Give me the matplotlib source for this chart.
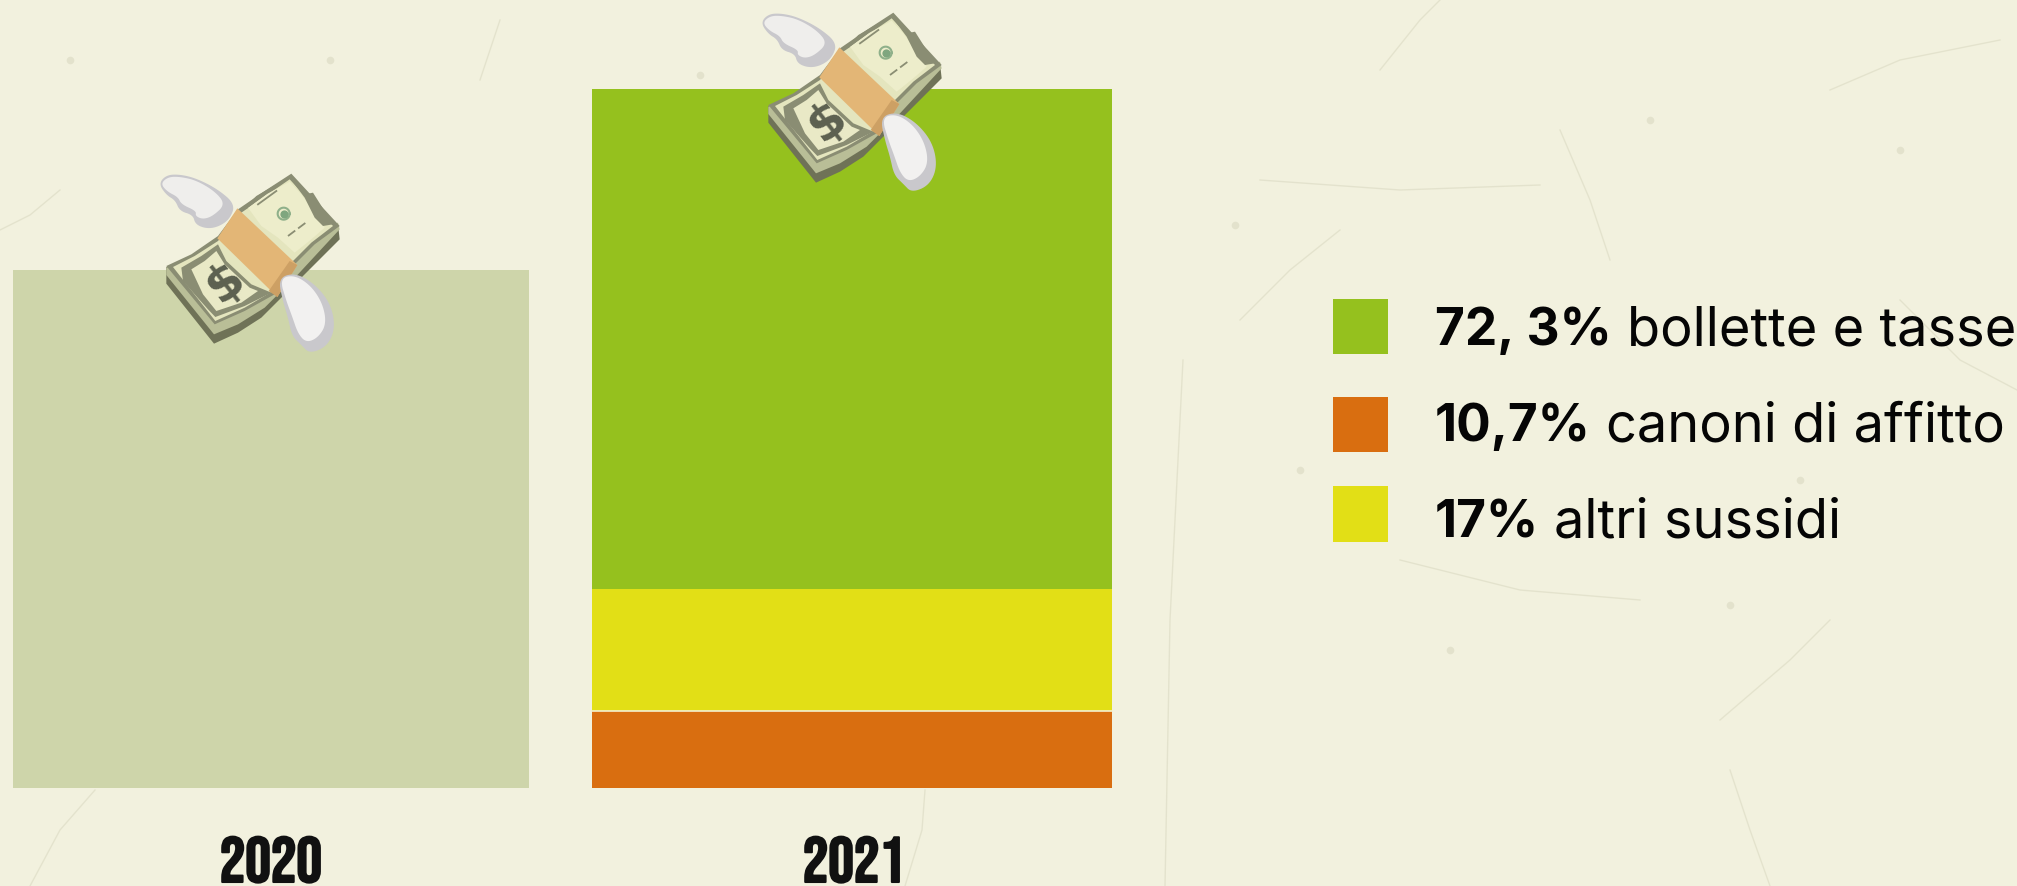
#Bonus 2020 vs 2021: barra piena e barra divisa in tre voci
import matplotlib
matplotlib.use('Agg')
import matplotlib.pyplot as plt
from matplotlib.patches import Polygon, Rectangle
import matplotlib.patheffects as pe
import numpy as np

plt.rcParams['font.family'] = ['Inter', 'DejaVu Sans']

anni = ['2020', '2021']
totale_2020 = 74.1
#altezze, dal basso verso l'alto
voci_2021 = ['canoni', 'sussidi', 'bollette']
valori_2021 = [11.0, 17.4, 71.6]
colori_2021 = ['#D96E10', '#E2DF16', '#95C11E']
colore_2020 = '#CED5AA'

legenda_num = ['72, 3%', '10,7%', '17%']
legenda_txt = ['bollette e tasse', 'canoni di affitto', 'altri sussidi']
legenda_col = ['#95C11E', '#D96E10', '#E2DF16']

sfondo = '#F2F1DE'

W, H = 2017, 886
fig = plt.figure(figsize=(W/100, H/100), dpi=100, facecolor=sfondo)

#assi delle barre: x=0 a 271 px, x=1 a 852 px; y=0 a 787.5 px, y=100 a 89 px
ax = fig.add_axes([0, 0, 1, 1])
ax.set_xlim(-271/581, (W-271)/581)
y_px = 699/100
ax.set_ylim(-(H-787.5)/y_px, 787.5/y_px)
ax.patch.set_alpha(0)
ax.axis('off')

ax.bar(0, totale_2020, width=516/581, color=colore_2020, zorder=2)
base = 0
for i in range(3):
    ax.bar(1, valori_2021[i], bottom=base, width=520/581, color=colori_2021[i], zorder=2)
    base += valori_2021[i]

#filo chiaro tra arancione e giallo
ax.plot([0.552, 1.448], [11.0, 11.0], color='#F4F0D0', lw=1.2, zorder=3)

#sovrapposizione in pixel per legenda, graffi ed emoji
px = fig.add_axes([0, 0, 1, 1])
px.set_xlim(0, W)
px.set_ylim(H, 0)
px.patch.set_alpha(0)
px.axis('off')

#graffi dello sfondo
graffi = [
    [(1183, 360), (1170, 620), (1165, 886)],
    [(1380, 70), (1420, 20), (1440, 0)],
    [(1240, 320), (1290, 270), (1340, 230)],
    [(1610, 260), (1590, 200), (1560, 130)],
    [(1260, 180), (1400, 190), (1540, 185)],
    [(1400, 560), (1520, 590), (1640, 600)],
    [(1720, 720), (1790, 660), (1830, 620)],
    [(1730, 770), (1750, 830), (1770, 886)],
    [(95, 790), (60, 830), (30, 886)],
    [(925, 790), (922, 830), (905, 886)],
    [(500, 20), (490, 50), (480, 80)],
    [(0, 230), (30, 215), (60, 190)],
    [(1830, 90), (1900, 60), (2000, 40)],
    [(1900, 300), (1960, 360), (2017, 390)],
]
for g in graffi:
    gx, gy = zip(*g)
    px.plot(gx, gy, color='#DEDDC6', lw=1, alpha=0.7, zorder=0)
macchie = [(1235, 225), (1730, 605), (1300, 470), (1900, 150), (1650, 120), (1450, 650), (1800, 480), (700, 75), (330, 60), (70, 60)]
for m in macchie:
    px.scatter(m[0], m[1], s=30, color='#E3E2CC', lw=0, zorder=0)

#etichette anni
stretti = ['Bebas Neue', 'League Gothic', 'Asap Condensed', 'DejaVu Sans']
for x0, a in zip([271, 854], anni):
    px.text(x0, 882, a, ha='center', va='baseline', fontsize=46,
            family=stretti, color='#111111',
            path_effects=[pe.withStroke(linewidth=1.5, foreground='#111111')])

#legenda
sw_y = [299, 397, 486]
sw_h = [55, 55, 56]
base_y = [345, 441, 537]
rend = fig.canvas.get_renderer()
for i in range(3):
    px.add_patch(Rectangle((1333, sw_y[i]), 55, sw_h[i], color=legenda_col[i], lw=0, zorder=2))
    t = px.text(1435, base_y[i], legenda_num[i], fontsize=37, fontweight='bold', va='baseline',
                color='#050505', zorder=3)
    bb = t.get_window_extent(rend)
    px.text(bb.x1+15, base_y[i], legenda_txt[i], fontsize=39, va='baseline', color='#050505', zorder=3)

#arrotonda un contorno chiuso tagliando gli angoli
def morbido(pts, giri=3):
    pts = np.array(pts, dtype=float)
    for _ in range(giri):
        succ = np.roll(pts, -1, axis=0)
        pts = np.concatenate([[0.75*a+0.25*b, 0.25*a+0.75*b] for a, b in zip(pts, succ)])
    return pts

#emoji: coordinate del ritaglio ingrandito 3x
def emoji(dx, dy):
    def poli(pts, c, z=5, giri=0):
        q = morbido(pts, giri)/3+[dx, dy]
        px.add_patch(Polygon(q, closed=True, color=c, lw=0, zorder=z))
    def riga(pts, c, **kw):
        q = np.array(pts)/3+[dx, dy]
        px.plot(q[:, 0], q[:, 1], color=c, zorder=6, **kw)

    #ala alta
    poli([(62,68),(85,42),(125,40),(175,52),(240,85),(292,130),(275,175),(240,198),(205,203),
          (172,190),(165,162),(125,150),(112,118),(85,102)], '#C9C8CC', giri=3)
    poli([(68,68),(90,48),(125,47),(175,58),(232,92),(262,130),(225,165),(195,175),
          (172,165),(175,150),(130,130),(120,108),(88,92)], '#EFEEEC', giri=3)
    #mazzetta, fogli sotto
    poli([(85,368),(228,548),(300,515),(370,470),(470,370),(605,235),(600,190),(85,318)], '#6F7257')
    poli([(85,342),(228,520),(300,490),(380,440),(480,340),(605,205),(600,185),(85,320)], '#B9BE97')
    #banconota sopra
    poli([(85,315),(160,280),(240,225),(300,145),(380,90),(460,38),(605,195),
          (530,250),(470,310),(410,400),(320,450),(230,490)], '#8A8D73')
    poli([(105,318),(170,285),(240,240),(310,155),(390,100),(455,55),(585,195),
          (520,245),(465,300),(405,390),(320,440),(232,480)], '#E4E5BE')
    #parte grigia interna
    poli([(130,320),(190,285),(240,250),(265,300),(340,370),(400,395),(320,435),(232,468),(210,445),(170,400),(135,360)], '#8A8D73')
    poli([(160,325),(200,300),(235,270),(260,310),(335,380),(360,390),(310,425),(235,450),(195,400)], '#E9E9C6')
    poli([(330,140),(385,100),(455,62),(490,100),(540,170),(560,200),(520,235),(470,275),(420,230),(370,195)], '#EDEDCB')
    poli([(455,50),(500,100),(525,95),(585,190),(555,195),(530,170),(500,110)], '#8A8D73')
    poli([(330,140),(385,100),(415,70),(355,105),(310,150)], '#8A8D73')
    #righe e sigillo
    riga([(360,130),(415,90)], '#8A8D73', lw=1.3)
    riga([(450,225),(510,180)], '#8A8D73', lw=1.3, ls=(0, (5, 2)))
    th = np.linspace(0, 2*np.pi, 40)
    riga(np.c_[437+18*np.cos(th), 158+18*np.sin(th)], '#8FB08A', lw=1.5)
    px.scatter(437/3+dx, 158/3+dy, s=35, color='#7FA67F', lw=0, zorder=6)
    #fascetta
    poli([(298,142),(478,312),(418,408),(238,232)], '#E3B676', 7)
    poli([(478,312),(418,408),(392,390),(455,300)], '#CDA064', 7)
    #ala bassa
    poli([(420,352),(470,335),(530,368),(578,428),(592,500),(568,556),(515,578),(490,552),(462,525),
          (450,470),(436,425)], '#C9C8CC', 8, giri=3)
    poli([(425,352),(470,342),(520,375),(555,430),(565,490),(540,530),(505,545),(480,518),
          (462,465),(445,420)], '#F2F1F0', 8, giri=3)
    #dollaro
    px.text(260/3+dx, 365/3+dy, '$', fontsize=36, fontweight='bold', family='DejaVu Sans', color='#5C6050',
            rotation=38, ha='center', va='center', zorder=6)

emoji(740, 0)
emoji(740-602, 161)

fig.savefig('out.png', dpi=100, facecolor=sfondo)
